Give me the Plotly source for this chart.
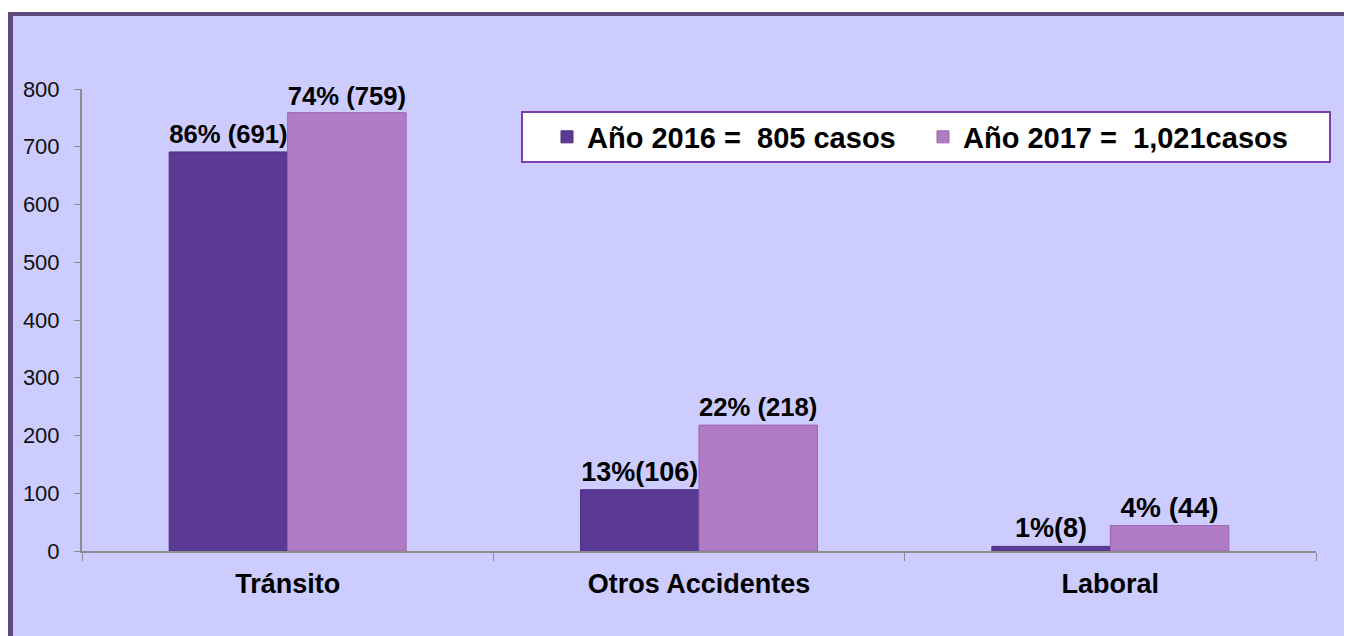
import plotly.graph_objects as go

categorias = ["Tránsito", "Otros Accidentes", "Laboral"]
casos_2016 = [691, 106, 8]
casos_2017 = [759, 218, 44]
etiquetas_2016 = ["86% (691)", "13%(106)", "1%(8)"]
etiquetas_2017 = ["74% (759)", "22% (218)", "4% (44)"]
leyenda_2016 = "Año 2016 = \u00a0805 casos"
leyenda_2017 = "Año 2017 = \u00a01,021casos"
ticks_y = [0, 100, 200, 300, 400, 500, 600, 700, 800]

# la página deja 8px de margen en el body, la figura empieza en (8, 8)
OFF = 8
W, H = 1352 - OFF, 636 - OFF
ML, MR, MT, MB = 82 - OFF, 36, 89 - OFF, 85
PW = W - ML - MR
PH = H - MT - MB
FONT = "Arial, Liberation Sans, sans-serif"


# posiciones de pantalla (px) -> coordenadas paper
def px_x(px):
    return (px - OFF - ML) / PW


def px_y(py):
    return (H - MB - (py - OFF)) / PH


fig = go.Figure()
fig.add_trace(go.Bar(
    x=categorias, y=casos_2016, name=leyenda_2016,
    text=etiquetas_2016, textposition="outside",
    textfont=dict(family=FONT, size=27, color="black", weight="bold"),
    marker=dict(color="#5A3A94", line=dict(color="#4A2E80", width=1)),
    cliponaxis=False,
))
fig.add_trace(go.Bar(
    x=categorias, y=casos_2017, name=leyenda_2017,
    text=etiquetas_2017, textposition="outside",
    textfont=dict(family=FONT, size=[30, 27, 28], color="black", weight="bold"),
    marker=dict(color="#B17BC5", line=dict(color="#9A64B0", width=1)),
    cliponaxis=False,
))

# fondo lavanda con marco morado arriba y a la izquierda
fig.add_shape(type="rect", xref="paper", yref="paper", layer="below",
              x0=px_x(0), x1=px_x(1360), y0=px_y(645), y1=px_y(0),
              fillcolor="white", line_width=0)
fig.add_shape(type="rect", xref="paper", yref="paper", layer="below",
              x0=px_x(8), x1=px_x(1360), y0=px_y(645), y1=px_y(12),
              fillcolor="#5E4A7C", line_width=0)
fig.add_shape(type="rect", xref="paper", yref="paper", layer="below",
              x0=px_x(13), x1=px_x(1360), y0=px_y(645), y1=px_y(16),
              fillcolor="#CCCCFF", line_width=0)
# recuadro de la leyenda
fig.add_shape(type="rect", xref="paper", yref="paper", layer="above",
              x0=px_x(522), x1=px_x(1330), y0=px_y(162), y1=px_y(112),
              fillcolor="white", line=dict(color="#7B3FB0", width=2))

fig.update_layout(
    width=W, height=H,
    margin=dict(l=ML, r=MR, t=MT, b=MB, autoexpand=False),
    paper_bgcolor="#CCCCFF",
    plot_bgcolor="white",
    barmode="group",
    bargap=0.424,
    bargroupgap=0,
    font=dict(family=FONT, color="#111111"),
    showlegend=True,
    legend=dict(
        orientation="h",
        x=px_x(547), y=px_y(137), xanchor="left", yanchor="middle",
        bgcolor="rgba(0,0,0,0)", borderwidth=0,
        font=dict(family=FONT, size=29, color="black", weight="bold"),
        entrywidth=331, entrywidthmode="pixels",
        traceorder="normal",
    ),
    xaxis=dict(
        type="category",
        showline=True, linecolor="#8C8C8C", linewidth=2,
        ticks="outside", tickson="boundaries", ticklen=8, tickcolor="#8C8C8C",
        tickfont=dict(family=FONT, size=27, color="black", weight="bold"),
        ticklabelstandoff=8,
        showgrid=False, zeroline=False,
    ),
    yaxis=dict(
        range=[0, 800],
        tickvals=ticks_y,
        showline=True, linecolor="#8C8C8C", linewidth=2,
        ticks="outside", ticklen=6, tickcolor="#8C8C8C",
        tickfont=dict(family=FONT, size=22, color="#111111"),
        ticklabelstandoff=10,
        showgrid=False, zeroline=False,
    ),
)

fig.write_html("out.html")
